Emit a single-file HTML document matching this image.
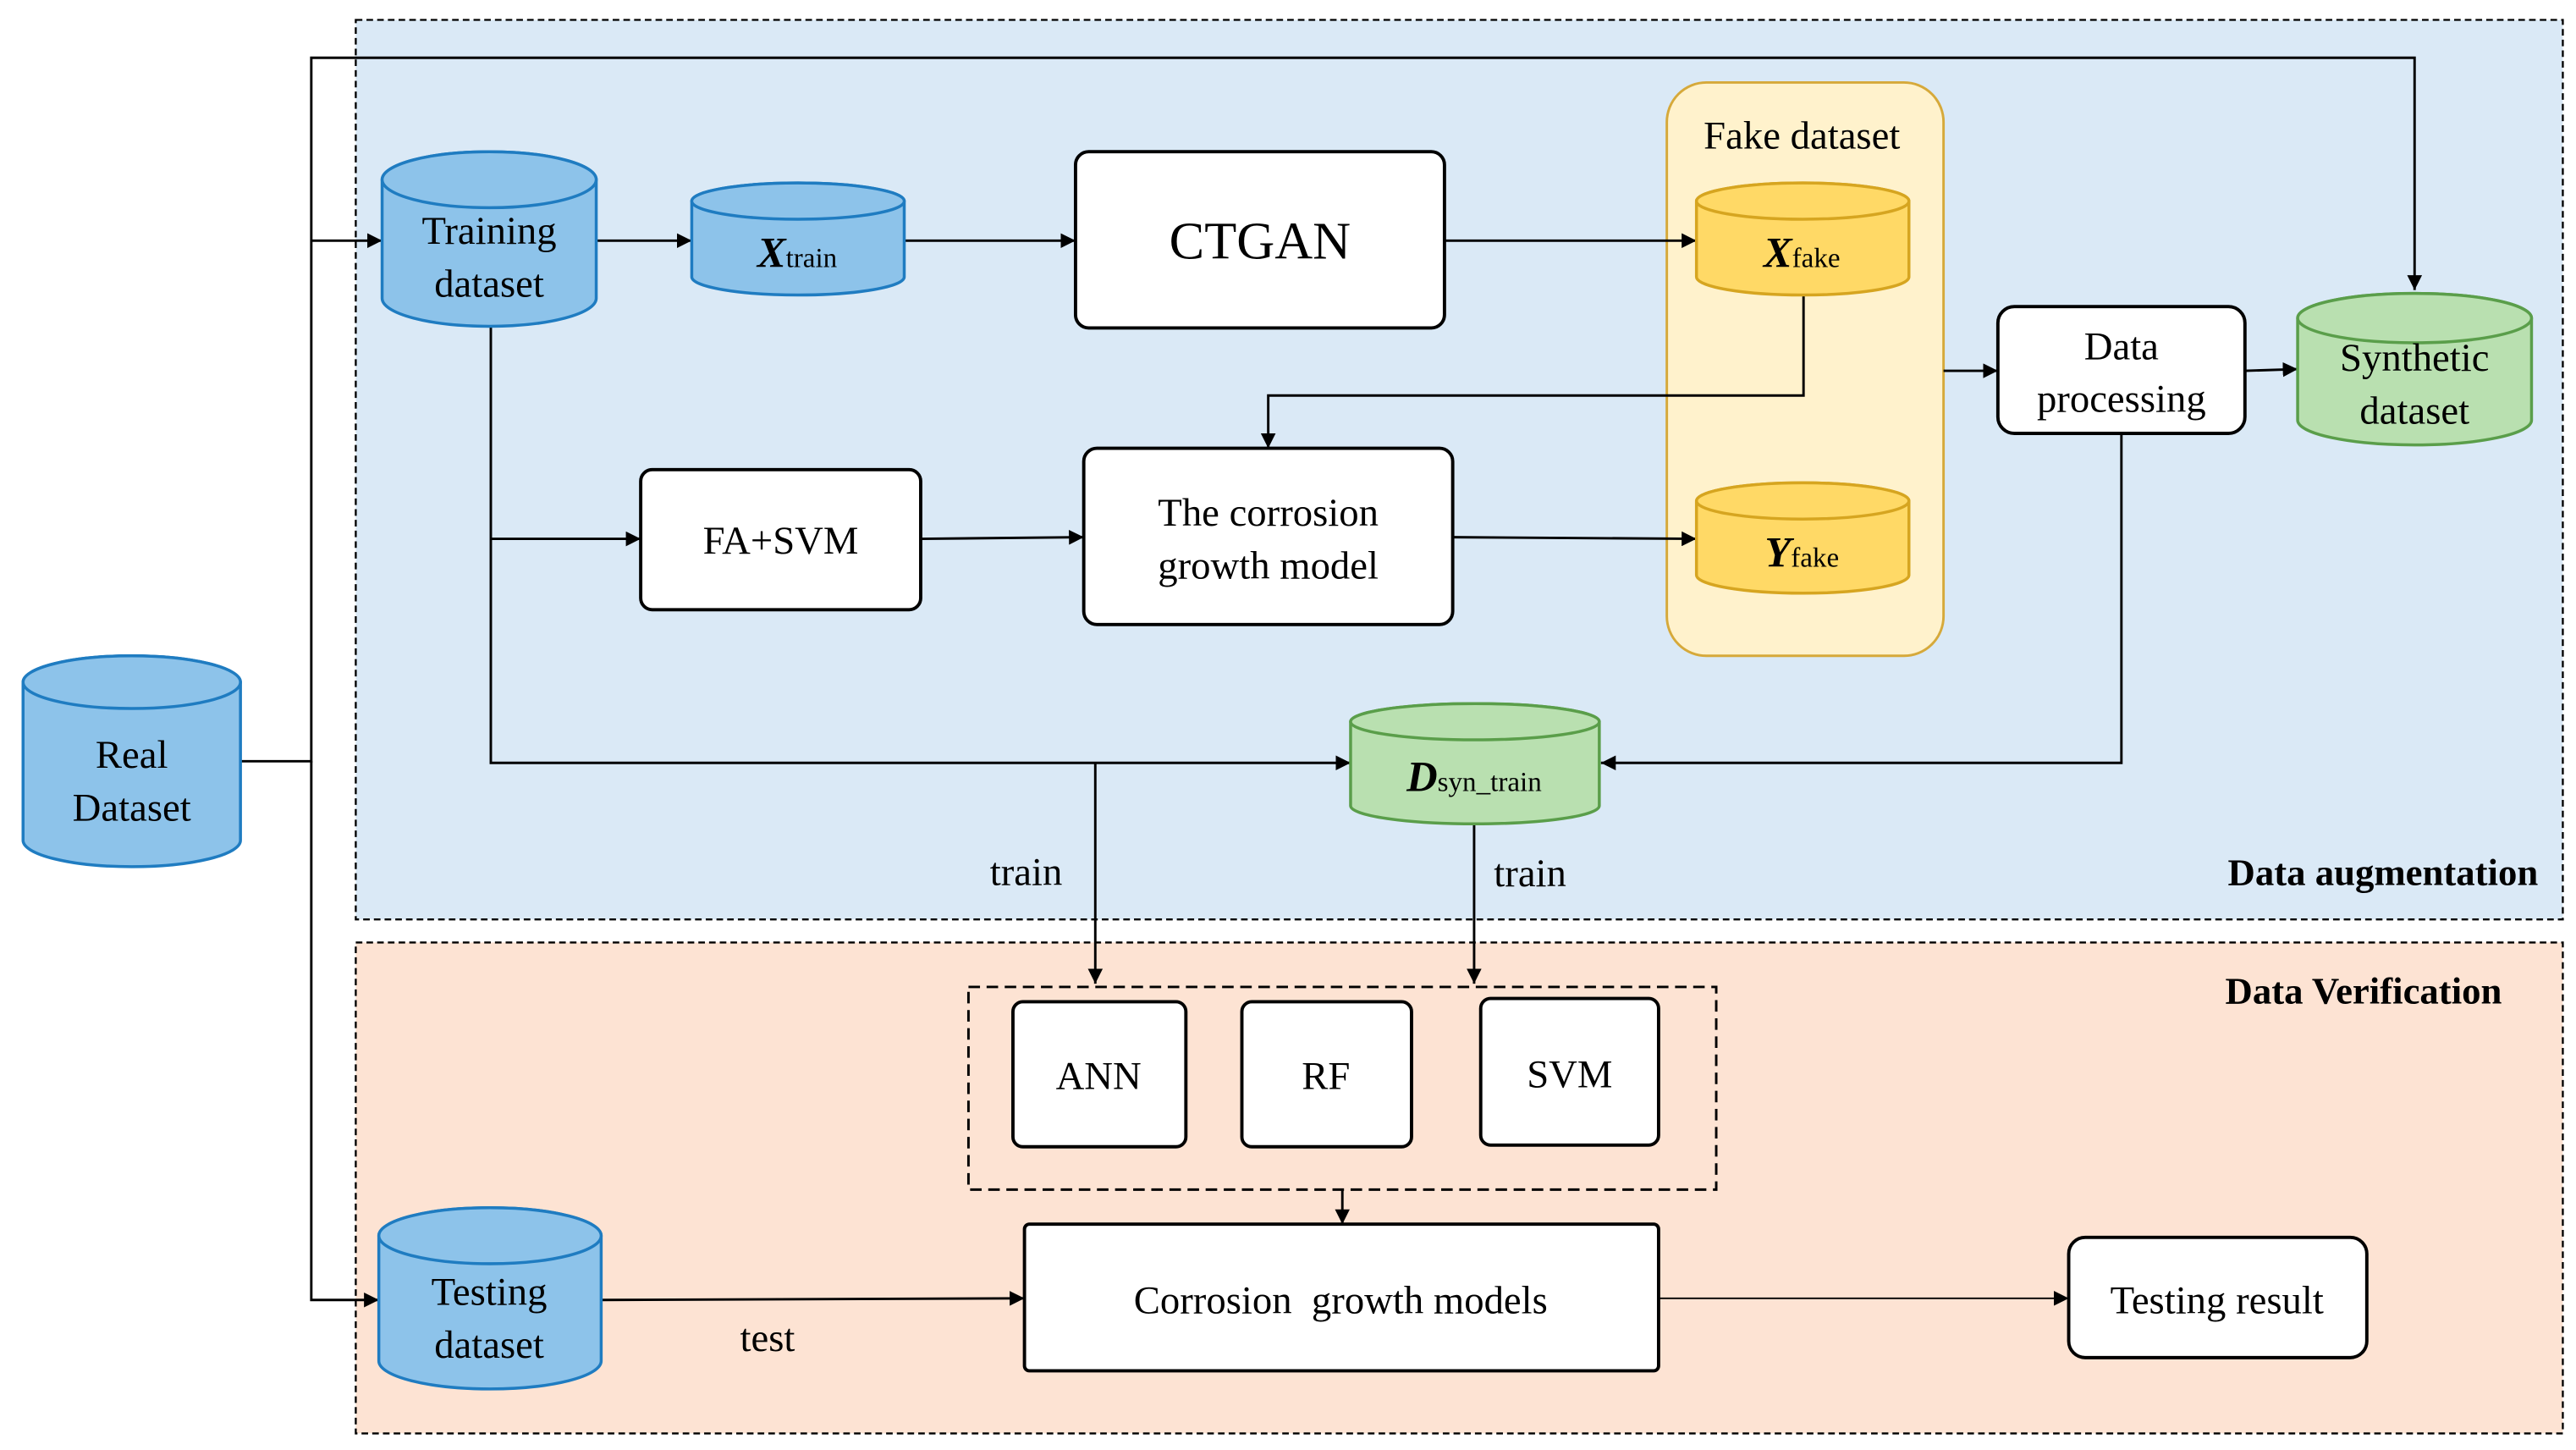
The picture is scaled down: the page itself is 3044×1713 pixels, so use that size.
<!DOCTYPE html>
<html><head><meta charset="utf-8"><style>html,body{margin:0;padding:0;background:#fff}svg{display:block}svg text{font-family:"Liberation Serif","Times New Roman","DejaVu Serif",serif}</style></head>
<body>
<svg width="3044" height="1713" viewBox="0 0 1564 880" xmlns="http://www.w3.org/2000/svg">
<defs>
<marker id="a" viewBox="0 0 10 10" refX="10" refY="5" markerWidth="9" markerHeight="9" markerUnits="userSpaceOnUse" orient="auto"><path d="M0,0L10,5L0,10z" fill="#000"/></marker>
</defs>
<rect x="216" y="12" width="1340" height="546" fill="#dae9f6" stroke="#000" stroke-width="1.2" stroke-dasharray="4,2.5"/>
<rect x="216" y="572" width="1340" height="298" fill="#fde3d3" stroke="#000" stroke-width="1.2" stroke-dasharray="4,2.5"/>
<rect x="1012" y="50" width="168" height="348" rx="24" fill="#fff2cc" stroke="#d6a93a" stroke-width="1.5"/>
<g fill="none" stroke="#000" stroke-width="1.5">
<path d="M146,462H189V35H1466V176" marker-end="url(#a)"/>
<path d="M189,146H232" marker-end="url(#a)"/>
<path d="M189,462V789H230" marker-end="url(#a)"/>
<path d="M362,146H420" marker-end="url(#a)"/>
<path d="M549,146H653" marker-end="url(#a)"/>
<path d="M877,146H1030" marker-end="url(#a)"/>
<path d="M1095,179V240H770V272" marker-end="url(#a)"/>
<path d="M298,198V463H820" marker-end="url(#a)"/>
<path d="M298,327H389" marker-end="url(#a)"/>
<path d="M559,327L658,326" marker-end="url(#a)"/>
<path d="M882,326L1030,327" marker-end="url(#a)"/>
<path d="M1180,225H1213" marker-end="url(#a)"/>
<path d="M1363,225L1395,224" marker-end="url(#a)"/>
<path d="M1288,263V463H972" marker-end="url(#a)"/>
<path d="M665,463V597" marker-end="url(#a)"/>
<path d="M895,500V597" marker-end="url(#a)"/>
<path d="M815,722V743" marker-end="url(#a)"/>
<path d="M365,789L622,788" marker-end="url(#a)"/>
<path d="M1007,788H1256" stroke-width="1" marker-end="url(#a)"/>
</g>
<rect x="588" y="599" width="454" height="123" fill="none" stroke="#000" stroke-width="1.5" stroke-dasharray="7,4"/>
<g fill="#fff" stroke="#000" stroke-width="2">
<rect x="653" y="92" width="224" height="107" rx="8"/>
<rect x="389" y="285" width="170" height="85" rx="7"/>
<rect x="658" y="272" width="224" height="107" rx="8"/>
<rect x="1213" y="186" width="150" height="77" rx="10"/>
<rect x="615" y="608" width="105" height="88" rx="6"/>
<rect x="754" y="608" width="103" height="88" rx="6"/>
<rect x="899" y="606" width="108" height="89" rx="6"/>
<rect x="622" y="743" width="385" height="89" rx="3"/>
<rect x="1256" y="751" width="181" height="73" rx="10"/>
</g>
<g stroke-width="1.8">
<g fill="#8dc3ea" stroke="#1f7cc1">
<path d="M14,414A66,16 0 0 1 146,414V510A66,16 0 0 1 14,510Z"/><ellipse cx="80" cy="414" rx="66" ry="16"/>
<path d="M232,109A65,17 0 0 1 362,109V181A65,17 0 0 1 232,181Z"/><ellipse cx="297" cy="109" rx="65" ry="17"/>
<path d="M420,122A64.5,11 0 0 1 549,122V168A64.5,11 0 0 1 420,168Z"/><ellipse cx="484.5" cy="122" rx="64.5" ry="11"/>
<path d="M230,750A67.5,17 0 0 1 365,750V826A67.5,17 0 0 1 230,826Z"/><ellipse cx="297.5" cy="750" rx="67.5" ry="17"/>
</g>
<g fill="#ffd966" stroke="#d6a520">
<path d="M1030,122A64.5,11 0 0 1 1159,122V168A64.5,11 0 0 1 1030,168Z"/><ellipse cx="1094.5" cy="122" rx="64.5" ry="11"/>
<path d="M1030,304A64.5,11 0 0 1 1159,304V349A64.5,11 0 0 1 1030,349Z"/><ellipse cx="1094.5" cy="304" rx="64.5" ry="11"/>
</g>
<g fill="#b9e0b0" stroke="#5a9e4a">
<path d="M1395,193A71,15 0 0 1 1537,193V255A71,15 0 0 1 1395,255Z"/><ellipse cx="1466" cy="193" rx="71" ry="15"/>
<path d="M820,438A75.5,11 0 0 1 971,438V489A75.5,11 0 0 1 820,489Z"/><ellipse cx="895.5" cy="438" rx="75.5" ry="11"/>
</g>
</g>
<g font-size="24" text-anchor="middle" fill="#000">
<text x="80" y="466">Real</text><text x="80" y="498">Dataset</text>
<text x="297" y="148">Training</text><text x="297" y="180">dataset</text>
<text x="484" y="162"><tspan font-style="italic" font-weight="bold" font-size="26">X</tspan><tspan font-size="17">train</tspan></text>
<text x="765" y="157" font-size="32">CTGAN</text>
<text x="1094" y="90">Fake dataset</text>
<text x="1094" y="162"><tspan font-style="italic" font-weight="bold" font-size="26">X</tspan><tspan font-size="17">fake</tspan></text>
<text x="1094" y="344"><tspan font-style="italic" font-weight="bold" font-size="26">Y</tspan><tspan font-size="17">fake</tspan></text>
<text x="474" y="336">FA+SVM</text>
<text x="770" y="319">The corrosion</text><text x="770" y="351">growth model</text>
<text x="1288" y="218">Data</text><text x="1288" y="250">processing</text>
<text x="1466" y="225">Synthetic</text><text x="1466" y="257">dataset</text>
<text x="895" y="480"><tspan font-style="italic" font-weight="bold" font-size="26">D</tspan><tspan font-size="17">syn_train</tspan></text>
<text x="623" y="537">train</text>
<text x="929" y="538">train</text>
<text x="667" y="661">ANN</text>
<text x="805" y="661">RF</text>
<text x="953" y="660">SVM</text>
<text x="297" y="792">Testing</text><text x="297" y="824">dataset</text>
<text x="466" y="820">test</text>
<text x="814" y="797" xml:space="preserve">Corrosion  growth models</text>
<text x="1346" y="797">Testing result</text>
</g>
<text x="1541" y="537" font-size="23" font-weight="bold" text-anchor="end">Data augmentation</text>
<text x="1519" y="609" font-size="23" font-weight="bold" text-anchor="end">Data Verification</text>
</svg>
</body></html>
